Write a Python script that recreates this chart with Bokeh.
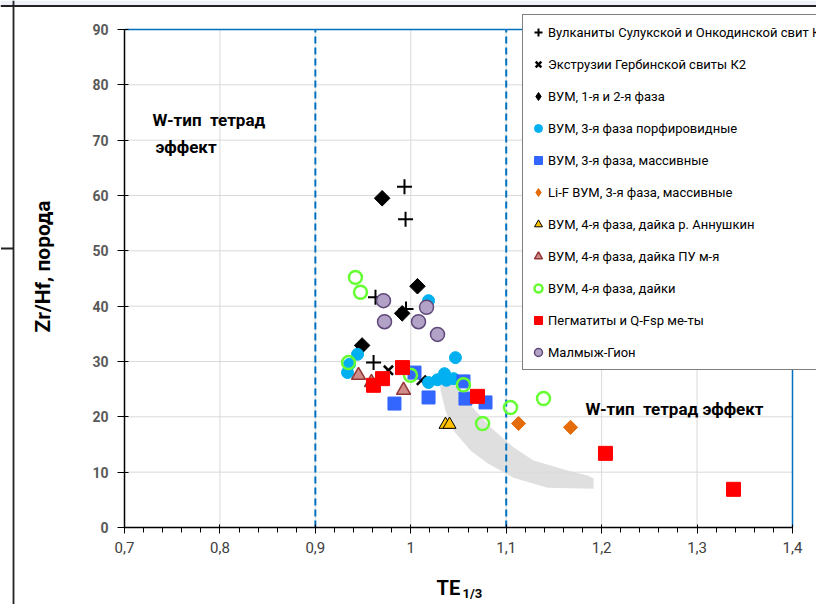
from bokeh.plotting import figure
from bokeh.models import (FixedTicker, CustomJSTickFormatter, Label, Legend, LegendItem,
                          Range1d, Span, BoxAnnotation)
from bokeh.embed import file_html
from bokeh.resources import INLINE
import math

FONT = "Roboto"

# ---------------- data ----------------
x_ticks = [0.7, 0.8, 0.9, 1.0, 1.1, 1.2, 1.3, 1.4]
y_ticks = [0, 10, 20, 30, 40, 50, 60, 70, 80, 90]
w_bounds = [0.9, 1.1]

volc_x = [0.9934, 0.9945, 0.963, 0.995, 0.961]
volc_y = [61.6, 55.7, 41.6, 39.5, 29.8]

extr_x = [0.9766, 1.0112]
extr_y = [28.4, 26.6]

ph12_x = [0.970, 1.007, 0.991, 0.949]
ph12_y = [59.5, 43.6, 38.7, 32.9]

porph_x = [1.0186, 0.9442, 0.9337, 0.9358, 1.0468, 1.0186, 1.0280, 1.0353, 1.0374, 1.0448]
porph_y = [41.0, 31.3, 28.0, 29.5, 30.7, 26.2, 26.7, 27.8, 26.6, 26.9]

mass_x = [0.9829, 1.0039, 1.0186, 1.0552, 1.0573, 1.0783]
mass_y = [22.4, 28.0, 23.5, 26.4, 23.3, 22.6]

lif_x = [1.1129, 1.1674]
lif_y = [18.8, 18.1]

ann_x = [1.0364, 1.0406]
ann_y = [18.6, 18.6]

pu_x = [0.9452, 0.9588, 0.9924]
pu_y = [27.5, 26.2, 24.8]

dike_x = [0.942, 0.9473, 0.9347, 0.9997, 1.0552, 1.0752, 1.1045, 1.1391]
dike_y = [45.2, 42.5, 29.8, 27.5, 25.8, 18.8, 21.7, 23.3]

peg_x = [0.9609, 0.9704, 0.9913, 1.0699, 1.2040, 1.3382]
peg_y = [25.7, 26.9, 28.9, 23.7, 13.4, 6.9]

mal_x = [0.9714, 1.0165, 0.9725, 1.0081, 1.028]
mal_y = [41.0, 39.8, 37.2, 37.2, 34.9]

band_x = [1.031, 1.052, 1.052, 1.0835, 1.1076, 1.1286, 1.1642, 1.1852, 1.1915,
          1.1915, 1.1433, 1.1076, 1.0804, 1.0626, 1.0448, 1.0364, 1.0311]
band_y = [27.1, 27.1, 24.2, 18.1, 14.5, 12.1, 10.3, 9.4, 8.9,
          7.0, 7.2, 9.0, 11.6, 13.9, 17.5, 21.1, 24.8]

labels = [
    "Вулканиты Сулукской и Онкодинской свит К2",
    "Экструзии Гербинской свиты К2",
    "ВУМ, 1-я и 2-я фаза",
    "ВУМ, 3-я фаза порфировидные",
    "ВУМ, 3-я фаза, массивные",
    "Li-F ВУМ, 3-я фаза, массивные",
    "ВУМ, 4-я фаза, дайка р. Аннушкин",
    "ВУМ, 4-я фаза, дайка ПУ м-я",
    "ВУМ, 4-я фаза, дайки",
    "Пегматиты и Q-Fsp ме-ты",
    "Малмыж-Гион",
]

# ---------------- geometry (pixels) ----------------
W, H = 816, 604
PX_L, PX_R, PX_T, PX_B = 124, 792, 29, 527      # plot area in page pixels
sx = (PX_R - PX_L) / (x_ticks[-1] - x_ticks[0])
sy = (PX_B - PX_T) / (y_ticks[-1] - y_ticks[0])


def px2x(px):
    return x_ticks[0] + (px - PX_L) / sx


def px2y(py):
    return (PX_B - py) / sy


p = figure(width=W, height=H, output_backend="svg", toolbar_location=None,
           x_range=Range1d(px2x(0), px2x(W)), y_range=Range1d(px2y(H), px2y(0)),
           min_border=0, min_border_left=0, min_border_right=0,
           min_border_top=0, min_border_bottom=0)
p.outline_line_color = None
p.background_fill_color = "white"
p.border_fill_color = "white"
p.xgrid.visible = False
p.ygrid.visible = False

# page decorations seen in the reference screenshot
p.add_layout(BoxAnnotation(bottom=px2y(5), fill_color="#EEF2F8", fill_alpha=1,
                           line_color=None, level="underlay"))
p.add_layout(Span(location=px2y(5.5), dimension="width", line_color="#222222",
                  line_width=1.8, level="underlay"))
p.add_layout(Span(location=px2x(13), dimension="height", line_color="#222222",
                  line_width=1.8, level="underlay"))
p.line([px2x(0.5), px2x(13)], [px2y(248), px2y(248)], line_color="#222222", line_width=1.8)

# grid lines (only inside the plot area)
p.segment(x0=x_ticks[1:-1], y0=y_ticks[0], x1=x_ticks[1:-1], y1=y_ticks[-1],
          line_color="#D9D9D9", line_width=1)
p.segment(x0=x_ticks[0], y0=y_ticks[1:-1], x1=x_ticks[-1], y1=y_ticks[1:-1],
          line_color="#D9D9D9", line_width=1)

# gray trend band
p.patch(band_x, band_y, fill_color="#D9D9D9", fill_alpha=0.85, line_color=None)

# blue frame lines
p.segment(x0=w_bounds, y0=y_ticks[0], x1=w_bounds, y1=y_ticks[-1],
          line_color="#0070C0", line_width=2, line_dash="7 4")
p.segment(x0=[x_ticks[0], x_ticks[-1]], y0=[y_ticks[-1], y_ticks[0]],
          x1=[x_ticks[-1], x_ticks[-1]], y1=[y_ticks[-1], y_ticks[-1]],
          line_color="#0070C0", line_width=1.5)

# axes at fixed positions
minor = [round(x_ticks[0] + 0.02 * i, 2) for i in range(36)]
p.xaxis.ticker = FixedTicker(ticks=x_ticks, minor_ticks=minor)
p.yaxis.ticker = FixedTicker(ticks=y_ticks)
p.xaxis.fixed_location = y_ticks[0]
p.yaxis.fixed_location = x_ticks[0]
p.xaxis.bounds = (x_ticks[0], x_ticks[-1])
p.yaxis.bounds = (y_ticks[0], y_ticks[-1])
p.xaxis.formatter = CustomJSTickFormatter(
    code="const s = (Math.round(tick*10)/10).toString(); return s.replace('.', ',');")

for ax in (p.xaxis, p.yaxis):
    ax.axis_line_color = "black"
    ax.axis_line_width = 1.5
    ax.major_tick_line_color = "black"
    ax.minor_tick_line_color = "black"
    ax.major_label_text_font = FONT

p.yaxis.major_tick_in = 4
p.yaxis.major_tick_out = 7
p.yaxis.minor_tick_in = 0
p.yaxis.minor_tick_out = 0
p.yaxis.major_label_text_font_size = "14px"
p.yaxis.major_label_text_font_style = "bold"
p.yaxis.major_label_text_color = "#595959"
p.yaxis.major_label_standoff = 9

p.xaxis.major_tick_in = 3
p.xaxis.major_tick_out = 6
p.xaxis.minor_tick_in = 0
p.xaxis.minor_tick_out = 5
p.xaxis.major_label_text_font_size = "15px"
p.xaxis.major_label_text_color = "#404040"
p.xaxis.major_label_standoff = 8

# ---------------- series ----------------
nan = [float("nan")]
r = []
r.append(p.scatter(volc_x, volc_y, marker="cross", size=15, line_color="black", line_width=2))
r.append(p.scatter(extr_x, extr_y, marker="x", size=13, line_color="black", line_width=2.5))
p.scatter(ph12_x, ph12_y, marker="square", angle=math.pi / 4, size=11,
          fill_color="black", line_color="black")
r.append(p.scatter(nan, nan, marker="diamond", size=12, fill_color="black", line_color="black"))
r.append(p.scatter(porph_x, porph_y, marker="circle", size=12,
                   fill_color="#00B0F0", line_color="#00B0F0"))
r.append(p.scatter(mass_x, mass_y, marker="square", size=13,
                   fill_color="#3366FF", line_color="#3366FF"))
p.scatter(lif_x, lif_y, marker="square", angle=math.pi / 4, size=10,
          fill_color="#E46C0A", line_color="#E46C0A")
r.append(p.scatter(nan, nan, marker="diamond", size=12, fill_color="#E46C0A", line_color="#E46C0A"))
r.append(p.scatter(ann_x, ann_y, marker="triangle", size=13,
                   fill_color="#FFC000", line_color="black", line_width=1))
r.append(p.scatter(pu_x, pu_y, marker="triangle", size=14,
                   fill_color="#D08C8A", line_color="#943634", line_width=1.5))
r.append(p.scatter(dike_x, dike_y, marker="circle", size=13, fill_color=None,
                   line_color="#66FF33", line_width=2.5))
r.append(p.scatter(peg_x, peg_y, marker="square", size=14,
                   fill_color="#FF0000", line_color="#FF0000"))
r.append(p.scatter(mal_x, mal_y, marker="circle", size=14,
                   fill_color="#B3A2C7", line_color="#5F497A", line_width=1.5))

legend = Legend(items=[LegendItem(label=l, renderers=[rr]) for l, rr in zip(labels, r)],
                location=(522, H - 370), margin=0, padding=5, spacing=8,
                glyph_width=20, glyph_height=24, label_height=24, label_standoff=0,
                label_text_font=FONT, label_text_font_size="13px", label_text_color="black",
                border_line_color="black", border_line_width=1.5,
                background_fill_color="white", background_fill_alpha=1)
p.add_layout(legend)

# ---------------- texts ----------------
def add_text(px, py, txt, size, **kw):
    p.add_layout(Label(x=px2x(px), y=px2y(py), text=txt, text_font=FONT,
                       text_font_size=size, text_font_style="bold", text_color="black",
                       text_baseline="alphabetic", **kw))


add_text(152, 119, "W-тип\u00a0 тетрад", "17px")
add_text(155, 146, "эффект", "17px")
add_text(585, 408, "W-тип\u00a0 тетрад эффект", "17px")
add_text(436, 587, "TE", "20px")
add_text(462, 593, "1/3", "13px")
p.add_layout(Label(x=px2x(42), y=px2y(266), text="Zr/Hf, порода", text_font=FONT,
                   text_font_size="21px", text_font_style="bold", text_color="black",
                   angle=math.pi / 2, text_align="center", text_baseline="middle"))

open("out.html", "w").write(file_html(p, INLINE))
